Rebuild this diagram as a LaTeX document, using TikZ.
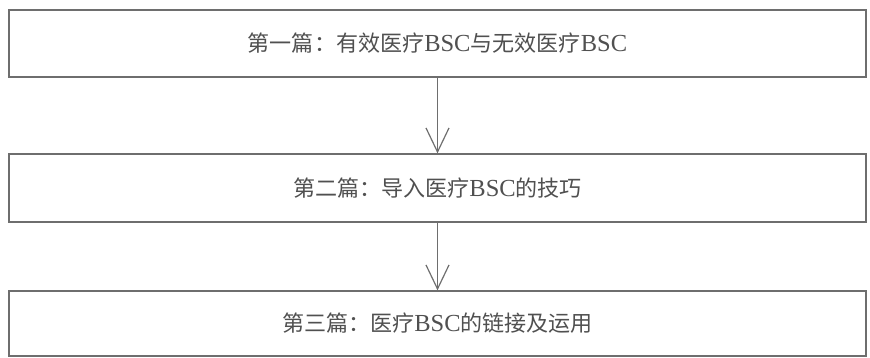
\documentclass[tikz,border=0pt]{standalone}
\usepackage{fontspec}
\setmainfont{Liberation Serif}
\newfontfamily\cjk{Noto Sans CJK SC}[Scale=0.9]
\usetikzlibrary{arrows.meta}
\definecolor{linegray}{HTML}{6E6E6E}
\definecolor{textgray}{HTML}{505050}
\tikzset{
  stage/.style={draw=linegray, line width=1.3pt, minimum width=857pt, minimum height=67pt,
    inner sep=0pt, text=textgray, font=\fontsize{24.5}{28}\selectfont},
  flow/.style={draw=linegray, line width=1.2pt, -{Straight Barb[length=24pt,width=23pt,line width=1.2pt]}}
}
\begin{document}
\begin{tikzpicture}[x=1pt,y=-1pt]
\useasboundingbox (0,0) rectangle (870,357);
\node[stage] (b1) at (437.5,43.5) {{\cjk 第一篇：有效医疗}BSC{\cjk 与无效医疗}BSC};
\node[stage, minimum height=68pt] (b2) at (437.5,188) {{\cjk 第二篇：导入医疗}BSC{\cjk 的技巧}};
\node[stage, minimum height=65pt] (b3) at (437.5,323.5) {{\cjk 第三篇：医疗}BSC{\cjk 的链接及运用}};
\draw[flow] (b1.south) -- (b2.north);
\draw[flow] (b2.south) -- (b3.north);
\end{tikzpicture}
\end{document}
